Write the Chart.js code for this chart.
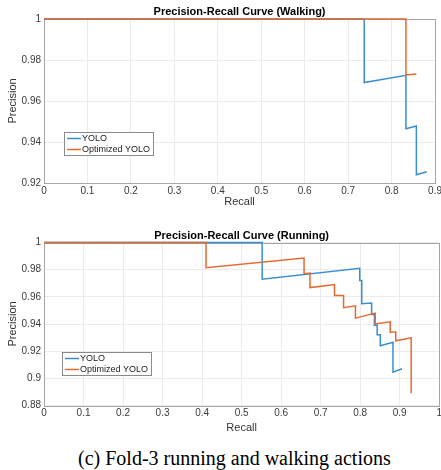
<!DOCTYPE html>
<html>
<head>
<meta charset="utf-8">
<script src="https://cdn.jsdelivr.net/npm/chart.js@4"></script>
<style>
  html, body { margin: 0; padding: 0; background: #fff; width: 441px; height: 470px; overflow: hidden; }
  canvas { position: absolute; left: 0; }
  #walkChart { top: 0; }
  #runChart { top: 220px; }
  .caption { position: absolute; top: 447px; left: 78px; white-space: nowrap; font: 20px "Liberation Serif", "Times New Roman", serif; line-height: 22px; color: #000; }
</style>
</head>
<body>
<canvas id="walkChart" width="444" height="210"></canvas>
<canvas id="runChart" width="444" height="216"></canvas>
<div class="caption">(c) Fold-3 running and walking actions</div>
<script>
// series names and colours
var seriesNames = ["YOLO", "Optimized YOLO"];
var seriesColors = ["#3a8dd0", "#e4692f"];

// walking: recall / precision
var walkYoloRecall = [0, 0.737, 0.737, 0.833, 0.833, 0.857, 0.857, 0.881];
var walkYoloPrecision = [1, 1, 0.969, 0.9725, 0.9465, 0.9478, 0.924, 0.9255];
var walkOptRecall = [0, 0.833, 0.833, 0.857];
var walkOptPrecision = [1, 1, 0.9727, 0.9732];

// running: recall / precision
var runYoloRecall = [0, 0.552, 0.552, 0.799, 0.799, 0.804, 0.804, 0.829, 0.829, 0.836, 0.836, 0.843, 0.843, 0.851, 0.851, 0.883, 0.883, 0.906];
var runYoloPrecision = [1, 1, 0.973, 0.981, 0.972, 0.972, 0.955, 0.9555, 0.947, 0.947, 0.939, 0.939, 0.932, 0.932, 0.924, 0.9265, 0.9045, 0.907];
var runOptRecall = [0, 0.41, 0.41, 0.658, 0.658, 0.673, 0.673, 0.735, 0.735, 0.758, 0.758, 0.788, 0.788, 0.838, 0.838, 0.876, 0.876, 0.89, 0.89, 0.929, 0.929];
var runOptPrecision = [1, 1, 0.9815, 0.9885, 0.977, 0.9775, 0.9668, 0.969, 0.961, 0.961, 0.952, 0.9534, 0.9443, 0.948, 0.94, 0.9416, 0.9338, 0.9343, 0.9276, 0.9298, 0.889];

Chart.defaults.font.family = '"Liberation Sans", Arial, sans-serif';

function points(xs, ys) {
    return xs.map(function (x, i) { return { x: x, y: ys[i] }; });
}

function tickLabel(v) {
    return String(parseFloat(Number(v).toFixed(2)));
}

// axes box, title and legend drawn the matlab way
var matlabFrame = {
    id: 'matlabFrame',
    beforeDatasetsDraw: function (chart) {
        var ctx = chart.ctx, a = chart.chartArea;
        ctx.save();
        ctx.strokeStyle = '#a6a6a6';
        ctx.lineWidth = 1;
        ctx.strokeRect(Math.round(a.left) + 0.5, Math.round(a.top) + 0.5,
            Math.round(a.right - a.left), Math.round(a.bottom - a.top));
        ctx.restore();
    },
    afterDraw: function (chart, args, opts) {
        var ctx = chart.ctx, a = chart.chartArea;
        ctx.save();
        ctx.fillStyle = '#000';
        ctx.font = 'bold 11px "Liberation Sans", Arial, sans-serif';
        ctx.textAlign = 'center';
        ctx.textBaseline = 'middle';
        ctx.fillText(opts.title, (a.left + a.right) / 2, a.top - opts.titleGap);

        // legend box
        ctx.font = '9px "Liberation Sans", Arial, sans-serif';
        var sets = chart.data.datasets;
        var textW = Math.max.apply(null, sets.map(function (d) { return ctx.measureText(d.label).width; }));
        var bw = Math.round(textW + 21), bh = 23;
        var bx = Math.round(a.left + opts.legendLeft);
        var by = Math.round(a.bottom - opts.legendBottom - bh);
        ctx.fillStyle = '#fff';
        ctx.fillRect(bx, by, bw, bh);
        ctx.strokeStyle = '#8a8a8a';
        ctx.lineWidth = 1;
        ctx.strokeRect(bx + 0.5, by + 0.5, bw, bh);
        ctx.textAlign = 'left';
        sets.forEach(function (d, i) {
            var y = by + 6.5 + i * 11;
            ctx.strokeStyle = d.borderColor;
            ctx.lineWidth = 1.5;
            ctx.beginPath();
            ctx.moveTo(bx + 3, y);
            ctx.lineTo(bx + 17, y);
            ctx.stroke();
            ctx.fillStyle = '#1a1a1a';
            ctx.fillText(d.label, bx + 18, y);
        });
        ctx.restore();
    }
};

function makeChart(id, title, sets, xMax, yMin, padTop, xAxisH, legendLeft, legendBottom) {
    var ctx = document.getElementById(id).getContext('2d');
    return new Chart(ctx, {
        type: 'line',
        data: {
            datasets: sets.map(function (s, i) {
                return {
                    label: seriesNames[i],
                    data: points(s[0], s[1]),
                    borderColor: seriesColors[i],
                    backgroundColor: seriesColors[i],
                    borderWidth: 1.5,
                    pointRadius: 0,
                    tension: 0,
                    fill: false,
                    clip: 3,
                    order: 2 - i
                };
            })
        },
        options: {
            responsive: false,
            animation: false,
            devicePixelRatio: 1,
            layout: { padding: { top: padTop, left: 0, right: 0, bottom: 0 } },
            plugins: {
                legend: { display: false },
                tooltip: { enabled: false },
                matlabFrame: { title: title, titleGap: 7, legendLeft: legendLeft, legendBottom: legendBottom }
            },
            scales: {
                x: {
                    type: 'linear', min: 0, max: xMax,
                    ticks: { stepSize: 0.1, padding: 2, color: '#3a3a3a', font: { size: 10 }, callback: tickLabel, maxRotation: 0, autoSkip: false },
                    grid: { color: '#ebebeb', drawTicks: false },
                    border: { display: false },
                    title: { display: true, text: 'Recall', color: '#333', font: { size: 11 }, padding: { top: 0, bottom: 1.4 } },
                    afterFit: function (s) { s.height = xAxisH; }
                },
                y: {
                    type: 'linear', min: yMin, max: 1,
                    ticks: { stepSize: 0.02, padding: 3, color: '#3a3a3a', font: { size: 10 }, callback: tickLabel },
                    grid: { color: '#ebebeb', drawTicks: false },
                    border: { display: false },
                    title: { display: true, text: 'Precision', color: '#333', font: { size: 11 }, padding: { top: 6.7, bottom: 0 } },
                    afterFit: function (s) { s.width = 44; }
                }
            }
        },
        plugins: [matlabFrame]
    });
}

makeChart('walkChart', 'Precision-Recall Curve (Walking)',
    [[walkYoloRecall, walkYoloPrecision], [walkOptRecall, walkOptPrecision]],
    0.9, 0.92, 19, 27, 20, 28);

makeChart('runChart', 'Precision-Recall Curve (Running)',
    [[runYoloRecall, runYoloPrecision], [runOptRecall, runOptPrecision]],
    1, 0.88, 22.5, 30.5, 18, 30.5);
</script>
</body>
</html>
